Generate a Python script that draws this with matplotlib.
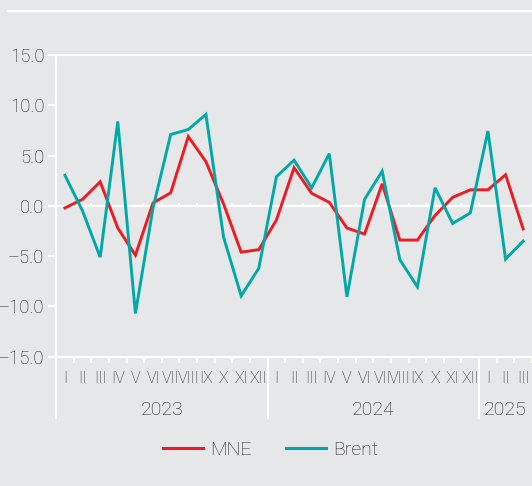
import matplotlib
matplotlib.use("Agg")
import matplotlib.pyplot as plt
import matplotlib.transforms as mtransforms
from matplotlib.lines import Line2D

plt.rcParams['font.family'] = ['Roboto', 'DejaVu Sans']
plt.rcParams['font.weight'] = 'light'

months = ["I", "II", "III", "IV", "V", "VI", "VII", "VIII", "IX", "X", "XI", "XII"]
years = ["2023", "2024", "2025"]
month_labels = months * 2 + months[:3]
mne = [-0.2, 0.65, 2.4, -2.2, -4.9, 0.3, 1.3, 6.9, 4.4, 0.2, -4.6, -4.35,
       -1.4, 3.8, 1.25, 0.35, -2.2, -2.8, 2.2, -3.4, -3.4, -0.95, 0.85, 1.6,
       1.6, 3.1, -2.3]
brent = [3.05, -0.5, -5.1, 8.4, -10.7, -0.2, 7.1, 7.6, 9.1, -3.1, -8.95, -6.2,
         2.9, 4.55, 1.8, 5.2, -9.05, 0.65, 3.45, -5.35, -8.05, 1.8, -1.75, -0.7,
         7.45, -5.3, -3.5]
yticks = [15, 10, 5, 0, -5, -10, -15]

BG = "#e6e7e8"
RED = "#ed1c24"
TEAL = "#00a9a8"
TXT = "#231f20"

W, H = 532, 486
fig = plt.figure(figsize=(W / 100, H / 100), dpi=100, facecolor=BG)
left, right = 56.1, 532
top, bottom = 55.1, 356.7
ax = fig.add_axes([left / W, 1 - bottom / H, (right - left) / W, (bottom - top) / H])
ax.set_facecolor(BG)

x = list(range(len(mne)))
ax.axhline(0, color='white', lw=1.6, zorder=2)
ax.plot(x, mne, color=RED, lw=2.1, solid_joinstyle='miter', zorder=3)
ax.plot(x, brent, color=TEAL, lw=2.1, solid_joinstyle='miter', zorder=3)

n = len(month_labels)
ax.set_xlim(-0.5, 26.25)
ax.set_ylim(-15, 15)

for s in ['left', 'top', 'bottom']:
    ax.spines[s].set_color('white')
    ax.spines[s].set_linewidth(1.5)
ax.spines['right'].set_visible(False)

ax.set_yticks(yticks)
ax.set_yticklabels([f"{v:.1f}".replace("-", "\u2013") for v in yticks])
ax.tick_params(axis='y', direction='out', length=6, width=1.5, color='white',
               pad=2.5, labelsize=13.3, labelcolor=TXT)

bounds = [k - 0.5 for k in range(n + 1)]
ax.set_xticks(bounds)
ax.set_xticklabels([])
ax.tick_params(axis='x', direction='out', length=4.5, width=1.5, color='white')

# small ticks along the zero line
sec = ax.secondary_xaxis(0.5)
for sp in sec.spines.values():
    sp.set_visible(False)
sec.set_xticks(bounds)
sec.set_xticklabels([])
sec.tick_params(axis='x', direction='out', length=2.2, width=1.2, color='white')

trans = mtransforms.blended_transform_factory(ax.transData, ax.transAxes)
ax_h = bottom - top
for i, lab in enumerate(month_labels):
    ax.text(i, -(378 - bottom) / ax_h, lab, transform=trans, ha='center', va='center',
            fontsize=11.5, color=TXT, clip_on=False)

# year separators and labels
sep_y = -(418.7 - bottom) / ax_h
for start in [0, 12, 24]:
    ax.plot([start - 0.5, start - 0.5], [0, sep_y], transform=trans, color='white',
            lw=1.5, clip_on=False, solid_capstyle='butt')
for yi, yr in enumerate(years):
    a = yi * 12
    b = min(a + 12, n)
    ax.text((a + b - 1) / 2, -(410 - bottom) / ax_h, yr, transform=trans, ha='center',
            va='center', fontsize=14, color=TXT, clip_on=False)

# decorative top line
fig.add_artist(Line2D([8 / W, 1], [1 - 10.7 / H, 1 - 10.7 / H], color='white', lw=1.6))

handles = [Line2D([], [], color=RED, lw=2.2), Line2D([], [], color=TEAL, lw=2.2)]
fig.legend(handles, ["MNE", "Brent"], loc='center', bbox_to_anchor=(270.5 / W, 1 - 450 / H),
           ncol=2, frameon=False, fontsize=14, handlelength=2.05, handletextpad=0.35,
           columnspacing=1.8, labelcolor=TXT)

fig.savefig("out.png", dpi=100, facecolor=BG)
